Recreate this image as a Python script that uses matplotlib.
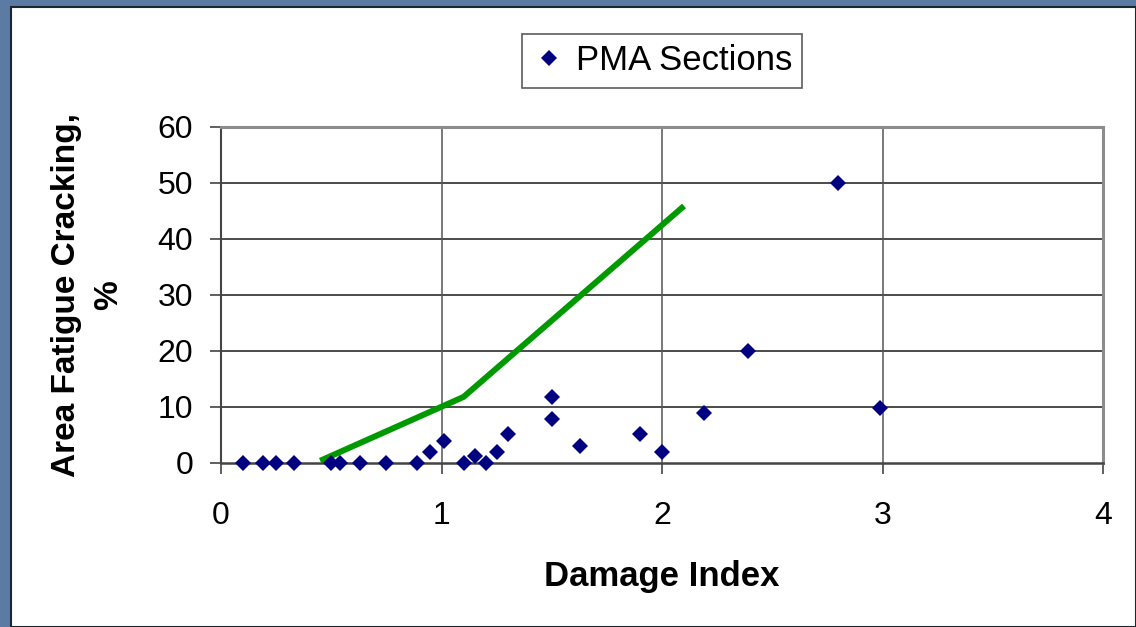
import matplotlib
matplotlib.use("Agg")
import matplotlib.pyplot as plt
from matplotlib.patches import Rectangle

plt.rcParams['font.family'] = ['Liberation Sans', 'DejaVu Sans']

# Data
damage_index = [0.10, 0.19, 0.25, 0.33, 0.50, 0.54, 0.63, 0.75, 0.89, 0.95, 1.01,
                1.10, 1.15, 1.20, 1.25, 1.30, 1.50, 1.50, 1.63, 1.90, 2.00, 2.19,
                2.39, 2.80, 2.99]
cracking = [0, 0, 0, 0, 0, 0, 0, 0, 0, 2.0, 3.9,
            0, 1.2, 0, 2.0, 5.1, 11.8, 7.9, 3.1, 5.1, 1.9, 9.0,
            20.0, 50.0, 9.8]
trend_x = [0.45, 1.10, 2.10]
trend_y = [0.4, 11.8, 45.9]

x_ticks = [0, 1, 2, 3, 4]
y_ticks = [0, 10, 20, 30, 40, 50, 60]

W, H = 1136, 627
fig = plt.figure(figsize=(W / 100, H / 100), dpi=100)
fig.patch.set_facecolor('#5b7ba3')

# white slide panel
panel = Rectangle((11 / W, 0), 1 - 11 / W, 1 - 7 / H, transform=fig.transFigure,
                  facecolor='white', edgecolor='#1c2633', linewidth=1.5, zorder=-10)
fig.patches.append(panel)

ax = fig.add_axes([221 / W, (H - 463) / H, (1103 - 221) / W, (463 - 127) / H])
ax.set_facecolor('white')

ax.plot(trend_x, trend_y, color='#009a00', linewidth=4.3, solid_capstyle='butt',
        zorder=3)
ax.plot(damage_index, cracking, linestyle='none', marker='D', markersize=8.6,
        color='#000080', markeredgewidth=0, label='PMA Sections', zorder=4,
        clip_on=False)

ax.set_xlim(0, 4)
ax.set_ylim(0, 60)
ax.set_xticks(x_ticks)
ax.set_yticks(y_ticks)
ax.set_xticklabels([str(v) for v in x_ticks])
ax.set_yticklabels([str(v) for v in y_ticks])

for v in y_ticks[1:-1]:
    ax.axhline(v, color='#1a1a1a', linewidth=1.1, zorder=1)
for v in x_ticks[1:-1]:
    ax.axvline(v, color='#555555', linewidth=1.1, zorder=1)

ax.tick_params(axis='both', direction='out', length=8, width=1.2, color='#444444',
               labelsize=23, labelcolor='black')
ax.tick_params(axis='y', pad=12)
ax.tick_params(axis='x', pad=19)

ax.spines['left'].set_color('#444444')
ax.spines['left'].set_linewidth(1.5)
ax.spines['bottom'].set_color('#444444')
ax.spines['bottom'].set_linewidth(1.8)
ax.spines['top'].set_color('#8c8c8c')
ax.spines['top'].set_linewidth(2.2)
ax.spines['right'].set_color('#8c8c8c')
ax.spines['right'].set_linewidth(2.2)

ax.set_xlabel('Damage Index', fontsize=25, fontweight='bold', labelpad=21)
ax.set_ylabel('Area Fatigue Cracking,\n%', fontsize=24, fontweight='bold',
              labelpad=24, linespacing=1.45)

leg = ax.legend(loc='center', bbox_to_anchor=((662 - 221) / (1103 - 221), (627 - 61 - (H - 463)) / (463 - 127)),
                fontsize=25, frameon=True, fancybox=False, borderpad=0.3,
                handletextpad=0.25, handlelength=1.0, borderaxespad=0)
leg.get_frame().set_edgecolor('#333333')
leg.get_frame().set_linewidth(1.2)
leg.set_clip_on(False)

fig.savefig('out.png', dpi=100, facecolor=fig.get_facecolor())
